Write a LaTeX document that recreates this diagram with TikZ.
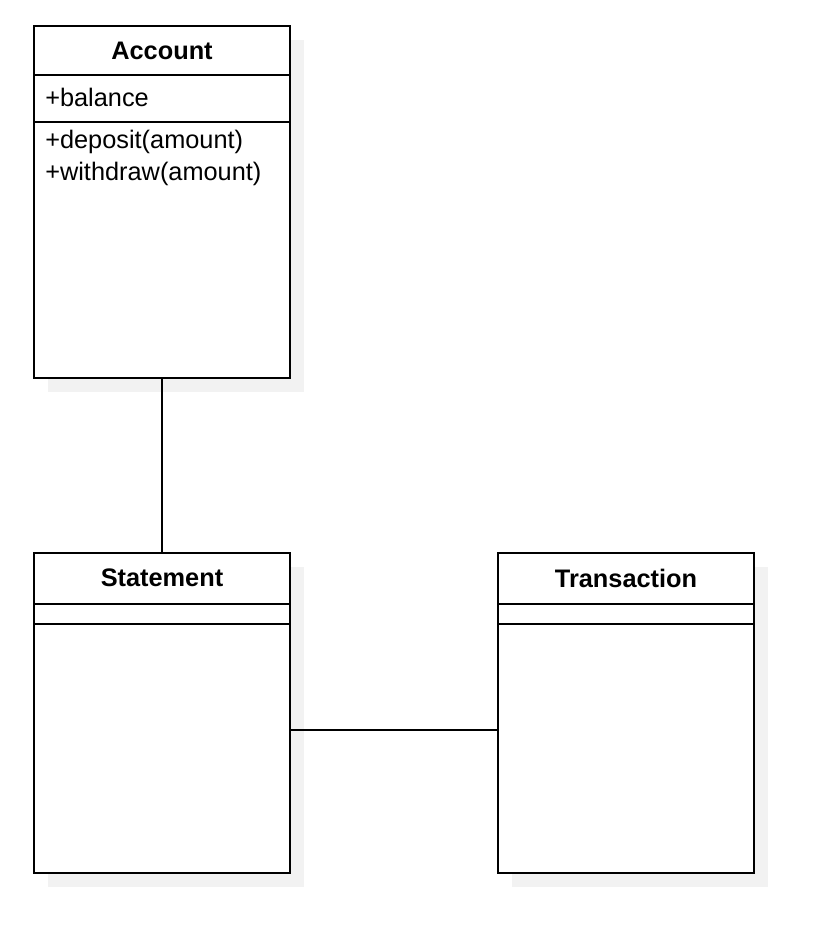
\documentclass[tikz,border=0pt]{standalone}
\usepackage{fontspec}
\setmainfont{Liberation Sans}
\usetikzlibrary{shadows}

\begin{document}
\begin{tikzpicture}[x=0.75pt,y=-0.75pt,
    cbox/.style={draw, line width=1.5pt, fill=white, minimum width=192pt, inner sep=0pt,
      drop shadow={shadow xshift=10.5pt, shadow yshift=-10.5pt, fill=black!5, opacity=1}},
    ctitle/.style={font=\fontsize{19}{24}\selectfont\bfseries, inner sep=0pt},
    cmember/.style={font=\fontsize{19}{24}\selectfont, anchor=west, align=left, inner sep=0pt},
    cline/.style={line width=1.5pt}]
    \useasboundingbox (0,0) rectangle (820,948);

    % class boxes
    \node[cbox, minimum height=264pt] (account) at (162,202) {};
    \node[cbox, minimum height=240pt] (statement) at (162,713) {};
    \node[cbox, minimum height=240pt] (transaction) at (626,713) {};

    % compartments
    \draw[cline] (account.west |- 0,75) -- (account.east |- 0,75);
    \draw[cline] (account.west |- 0,122) -- (account.east |- 0,122);
    \draw[cline] (statement.west |- 0,604) -- (statement.east |- 0,604);
    \draw[cline] (statement.west |- 0,624) -- (statement.east |- 0,624);
    \draw[cline] (transaction.west |- 0,604) -- (transaction.east |- 0,604);
    \draw[cline] (transaction.west |- 0,624) -- (transaction.east |- 0,624);

    \node[ctitle] (accountname) at (162,51) {Account};
    \node[cmember] (accountattr) at (45,97) {+balance};
    \node[cmember] (accountops) at (45,158) {+deposit(amount)\\+withdraw(amount)};
    \node[ctitle] (statementname) at (162,578) {Statement};
    \node[ctitle] (transactionname) at (626,578) {Transaction};

    % associations
    \draw[cline] (account) -- (statement);
    \draw[cline] ([yshift=-12.75pt]statement.east) -- ([yshift=-12.75pt]transaction.west);
\end{tikzpicture}
\end{document}
